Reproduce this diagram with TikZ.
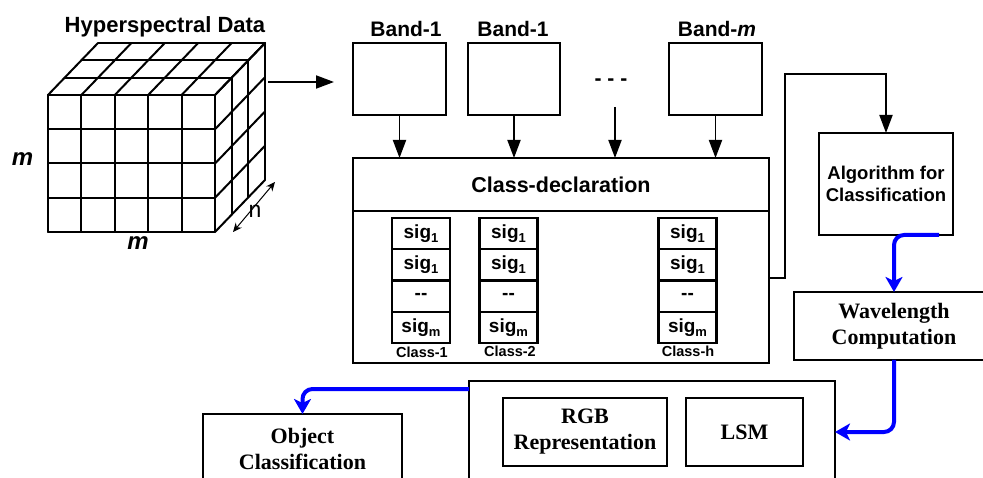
\documentclass[tikz,border=0pt]{standalone}
\usepackage{fontspec}
\setmainfont{Liberation Serif}
\newfontfamily\arialfont{Liberation Sans}
\usetikzlibrary{arrows.meta}
\definecolor{flowblue}{RGB}{0,0,255}

% subscripted signature label
\newcommand\sigsub[1]{sig\raisebox{-0.22em}{\fontsize{13}{13}\selectfont #1}}

\tikzset{
  box/.style={draw, line width=2.1pt, inner sep=0pt, outer sep=0pt, fill=white, align=center},
  sigcell/.style={box, minimum width=58pt, minimum height=31.25pt,
    font=\arialfont\bfseries\fontsize{19}{22}\selectfont},
  sanslabel/.style={inner sep=0pt, anchor=base, font=\arialfont\bfseries\fontsize{21}{25}\selectfont},
  classlabel/.style={inner sep=0pt, anchor=base, font=\arialfont\bfseries\fontsize{14.5}{17}\selectfont},
  serifbox/.style={box, font=\bfseries\fontsize{22}{26}\selectfont},
  blackarrow/.style={line width=1.9pt, -{Triangle[length=18pt, width=13pt]}},
  bluearrow/.style={draw=flowblue, line width=4pt, rounded corners=10pt,
    -{Stealth[length=15pt, width=17pt, inset=4pt]}},
  cubeline/.style={line width=2pt, line cap=round, line join=round},
}

\begin{document}
\begin{tikzpicture}[x=1pt, y=-1pt]
\useasboundingbox (0,0) rectangle (983,478);
\clip (0,0) rectangle (983,478);

% ---------- data cube ----------
\node[sanslabel, font=\arialfont\bfseries\fontsize{22}{26}\selectfont] (hsd) at (165,33) {Hyperspectral Data};
\begin{scope}[cubeline]
  % front face grid
  \foreach \i in {0,...,5} \draw ({48+33.4*\i},95) -- ({48+33.4*\i},232);
  \foreach \j in {0,...,4} \draw (48,{95+34.25*\j}) -- (215,{95+34.25*\j});
  % top face
  \foreach \k in {1,...,3} \draw ({48+16.67*\k},{95-17.33*\k}) -- ({215+16.67*\k},{95-17.33*\k});
  \foreach \i in {0,...,5} \draw ({48+33.4*\i},95) -- ++(50,-52);
  % right face
  \foreach \k in {1,...,3} \draw ({215+16.67*\k},{95-17.33*\k}) -- ({215+16.67*\k},{232-17.33*\k});
  \foreach \j in {0,...,4} \draw (215,{95+34.25*\j}) -- ++(50,-52);
\end{scope}
\node[inner sep=0pt, anchor=base, font=\arialfont\bfseries\itshape\fontsize{24}{28}\selectfont] (mleft) at (22.5,166) {m};
\node[inner sep=0pt, anchor=base, font=\arialfont\bfseries\itshape\fontsize{24}{28}\selectfont] (mbottom) at (138,250) {m};
\node[inner sep=0pt, anchor=base, font=\arialfont\fontsize{23}{26}\selectfont] (nlabel) at (255,218) {n};
\coordinate (nfront) at (233,232);
\coordinate (nback) at (275,182);
\draw[line width=1pt, {Stealth[length=9pt, width=8pt]}-{Stealth[length=9pt, width=8pt]}] (nfront) -- (nback);

\coordinate (cubeout) at (268,82);
\coordinate (bandsin) at (334,82);
\draw[blackarrow] (cubeout) -- (bandsin);

% ---------- bands ----------
\node[box, minimum width=93pt, minimum height=72pt] (band1) at (399.5,79) {};
\node[box, minimum width=92pt, minimum height=72pt] (band2) at (514,79) {};
\node[box, minimum width=93pt, minimum height=72pt] (bandm) at (715.5,79) {};
\node[sanslabel] (lband1) at (406,37) {Band-1};
\node[sanslabel] (lband2) at (513,37) {Band-1};
\node[sanslabel] (lbandm) at (717,37) {Band-\textit{m}};
\node[inner sep=0pt, font=\arialfont\bfseries\fontsize{21}{25}\selectfont] (dots) at (611,82) {- - -};
\coordinate (dotsarrow) at (615,107);

% ---------- class declaration ----------
\node[box, minimum width=416pt, minimum height=53pt,
      font=\arialfont\bfseries\fontsize{21.5}{25}\selectfont] (decl) at (561,184.5) {Class-declaration};
\node[box, minimum width=416pt, minimum height=152pt] (body) at (561,287) {};

\draw[blackarrow] (band1.south) -- (band1.south |- decl.north);
\draw[blackarrow] (band2.south) -- (band2.south |- decl.north);
\draw[blackarrow] (dotsarrow) -- (dotsarrow |- decl.north);
\draw[blackarrow] (bandm.south) -- (bandm.south |- decl.north);

% signature columns
\foreach \cx/\nm in {421/a, 508.5/b, 687.5/c} {
  \node[sigcell] (\nm1) at (\cx,233.6) {\sigsub{1}};
  \node[sigcell] (\nm2) at (\cx,264.9) {\sigsub{1}};
  \node[sigcell] (\nm3) at (\cx,296.1) {{-}{-}};
  \node[sigcell] (\nm4) at (\cx,327.4) {\sigsub{m}};
}
\node[classlabel] (c1) at (422,358) {Class-1};
\node[classlabel] (c2) at (510,356) {Class-2};
\node[classlabel] (ch) at (688,356) {Class-h};

% ---------- algorithm ----------
\node[box, minimum width=134pt, minimum height=102pt,
      font=\arialfont\bfseries\fontsize{18.5}{22}\selectfont] (algo) at (886,184)
      {Algorithm for\\Classification};
\coordinate (turn) at (886,74);
\draw[blackarrow] ([yshift=9pt]body.east) -- ++(16,0) |- (turn) -- (algo.north);

% ---------- wavelength and outputs ----------
\node[serifbox, minimum width=200pt, minimum height=68pt] (wave) at (894,326)
      {Wavelength\\Computation};
\node[box, minimum width=366pt, minimum height=102pt] (outbox) at (652,432) {};
\node[serifbox, minimum width=164pt, minimum height=68pt] (rgb) at (585,432)
      {RGB\\Representation};
\node[serifbox, minimum width=117pt, minimum height=68pt] (lsm) at (744.5,432) {LSM};
\node[serifbox, minimum width=199pt, minimum height=69pt] (obj) at (302.5,448.5)
      {Object\\Classification};

\draw[bluearrow] ([xshift=53pt]algo.south) -| (wave.north);
\draw[bluearrow] (wave.south) |- (outbox.east);
\draw[bluearrow] ([yshift=43pt]outbox.west) -| (obj.north);
\end{tikzpicture}
\end{document}
